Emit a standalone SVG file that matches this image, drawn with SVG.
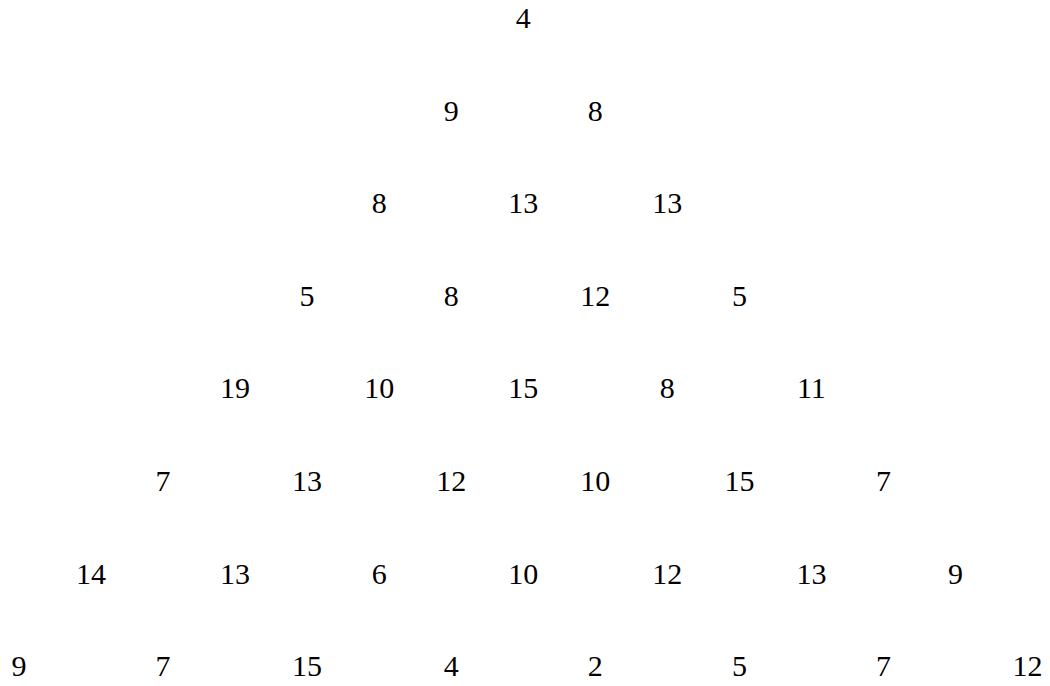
<svg xmlns="http://www.w3.org/2000/svg" width="1050" height="686" viewBox="0 0 1050 686">
<style>
text{font-family:"Liberation Serif","DejaVu Serif",serif;font-size:30px;fill:#000;text-anchor:middle}
</style>
<rect width="1050" height="686" fill="#fff"/>
<g id="r0"><text x="523.3" y="28">4</text></g>
<g id="r1"><text x="451.2" y="120.6">9</text><text x="595.3" y="120.6">8</text></g>
<g id="r2"><text x="379.2" y="213.2">8</text><text x="523.3" y="213.2">13</text><text x="667.3" y="213.2">13</text></g>
<g id="r3"><text x="307.1" y="305.8">5</text><text x="451.2" y="305.8">8</text><text x="595.3" y="305.8">12</text><text x="739.4" y="305.8">5</text></g>
<g id="r4"><text x="235.1" y="398.4">19</text><text x="379.2" y="398.4">10</text><text x="523.3" y="398.4">15</text><text x="667.3" y="398.4">8</text><text x="811.4" y="398.4">11</text></g>
<g id="r5"><text x="163.1" y="491">7</text><text x="307.1" y="491">13</text><text x="451.2" y="491">12</text><text x="595.3" y="491">10</text><text x="739.4" y="491">15</text><text x="883.4" y="491">7</text></g>
<g id="r6"><text x="91" y="583.6">14</text><text x="235.1" y="583.6">13</text><text x="379.2" y="583.6">6</text><text x="523.3" y="583.6">10</text><text x="667.3" y="583.6">12</text><text x="811.4" y="583.6">13</text><text x="955.5" y="583.6">9</text></g>
<g id="r7"><text x="19" y="676.2">9</text><text x="163.1" y="676.2">7</text><text x="307.1" y="676.2">15</text><text x="451.2" y="676.2">4</text><text x="595.3" y="676.2">2</text><text x="739.4" y="676.2">5</text><text x="883.4" y="676.2">7</text><text x="1027.5" y="676.2">12</text></g>
</svg>
